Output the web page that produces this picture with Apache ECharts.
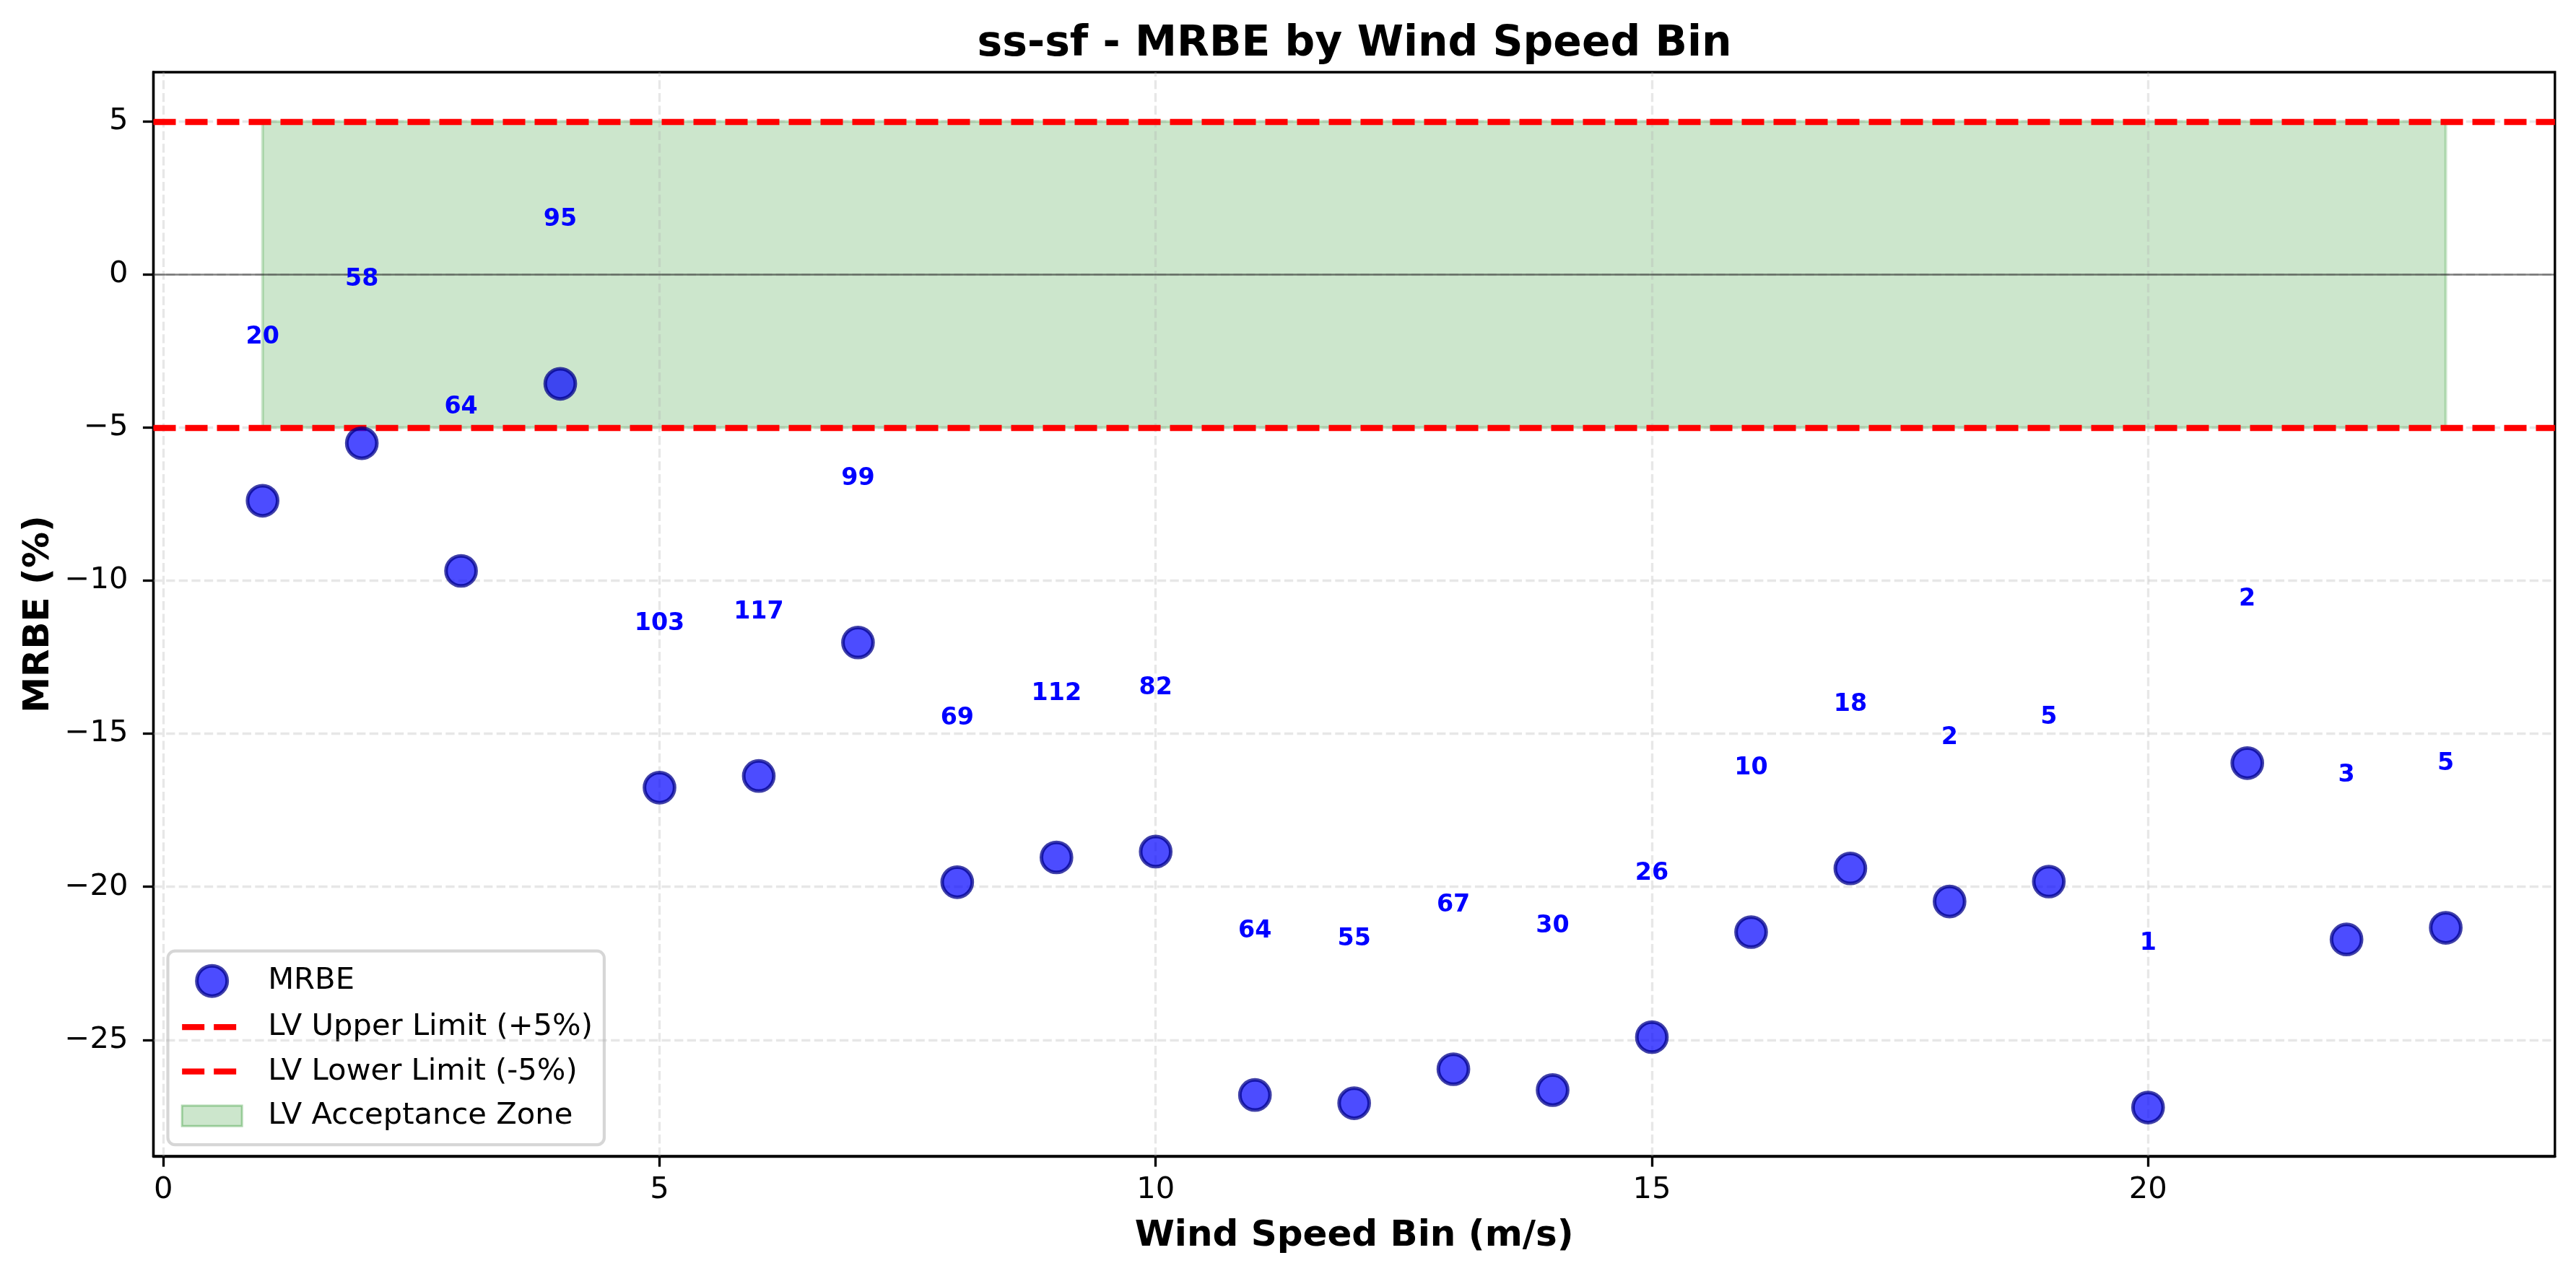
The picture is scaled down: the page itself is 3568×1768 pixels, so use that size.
<!DOCTYPE html>
<html>
<head>
<meta charset="utf-8">
<script src="https://cdn.jsdelivr.net/npm/echarts@6.0.0/dist/echarts.min.js"></script>
<style>
html, body { margin: 0; padding: 0; background: #fff; }
#chart { width: 3568px; height: 1768px; }
</style>
</head>
<body>
<div id="chart"></div>
<script>
// wind speed bins (m/s)
var BINS = [1, 2, 3, 4, 5, 6, 7, 8, 9, 10, 11, 12, 13, 14, 15, 16, 17, 18, 19, 20, 21, 22, 23];
// MRBE per bin (%)
var MRBE = [-7.39, -5.51, -9.68, -3.57, -16.76, -16.38, -12.02, -19.85, -19.04, -18.85, -26.80, -27.07,
            -25.96, -26.64, -24.91, -21.48, -19.40, -20.48, -19.83, -27.21, -15.96, -21.72, -21.34];
// sample count per bin
var COUNTS = [20, 58, 64, 95, 103, 117, 99, 69, 112, 82, 64, 55, 67, 30, 26, 10, 18, 2, 5, 1, 2, 3, 5];

var X_TICKS = [0, 5, 10, 15, 20];
var Y_TICKS = [-25, -20, -15, -10, -5, 0, 5];
var UPPER = 5, LOWER = -5;

var FONT = 'DejaVu Sans';
var PT = 300 / 72; // points -> px

function minus(v) { return String(v).replace('-', '\u2212'); }

var chart = echarts.init(document.getElementById('chart'));

var redLine = { color: '#ff0000', width: 2 * PT, type: [31, 13] };
var gridLine = { color: 'rgba(176,176,176,0.3)', width: 0.8 * PT, type: [12.3, 5.3] };

chart.setOption({
	animation: false,
	backgroundColor: '#ffffff',
	graphic: [{
		type: 'text', x: 1876, y: 62,
		style: {
			text: 'ss-sf - MRBE by Wind Speed Bin',
			font: 'bold ' + (14 * PT) + 'px "' + FONT + '"',
			fill: '#000', align: 'center', verticalAlign: 'middle'
		}
	}],
	grid: {
		left: 212.5, right: 29.2, top: 100, bottom: 166,
		show: true, borderColor: '#000', borderWidth: 0.8 * PT, backgroundColor: 'transparent'
	},
	legend: {
		left: 232.5, top: 1317.7, orient: 'vertical',
		padding: [18, 16, 19, 15.5],
		itemWidth: 83, itemHeight: 42, itemGap: 19.5,
		backgroundColor: 'rgba(255,255,255,0.8)',
		borderColor: 'rgba(204,204,204,0.8)', borderWidth: 1 * PT, borderRadius: 10,
		lineStyle: { width: 2 * PT },
		textStyle: { fontFamily: FONT, fontSize: 10 * PT, color: '#000', lineHeight: 42, padding: [0, 0, 0, 31] },
		selectedMode: false,
		data: [
			{ name: 'MRBE', icon: 'circle',
			  itemStyle: { color: 'rgba(0,0,255,0.7)', borderColor: 'rgba(0,0,139,0.75)', borderWidth: 1.2 * PT, opacity: 1 } },
			{ name: 'LV Upper Limit (+5%)', itemStyle: { color: 'rgba(0,0,0,0)', borderWidth: 0 } },
			{ name: 'LV Lower Limit (-5%)', itemStyle: { color: 'rgba(0,0,0,0)', borderWidth: 0 } },
			{ name: 'LV Acceptance Zone', icon: 'path://M0,0H88V30H0Z',
			  itemStyle: { color: 'rgba(0,128,0,0.2)', borderColor: 'rgba(0,128,0,0.3)', borderWidth: 3 } }
		]
	},
	xAxis: {
		type: 'value', min: -0.1, max: 24.1,
		name: 'Wind Speed Bin (m/s)', nameLocation: 'middle', nameGap: 86,
		nameTextStyle: { fontFamily: FONT, fontSize: 12 * PT, fontWeight: 'bold', color: '#000' },
		axisLine: { onZero: false, lineStyle: { color: '#000', width: 0.8 * PT } },
		axisTick: { customValues: X_TICKS, length: 3.5 * PT, lineStyle: { color: '#000', width: 0.8 * PT } },
		axisLabel: { customValues: X_TICKS, margin: 26, fontFamily: FONT, fontSize: 10 * PT, color: '#000', formatter: minus },
		splitLine: { show: false }
	},
	yAxis: {
		type: 'value', min: -28.8, max: 6.61,
		name: 'MRBE (%)', nameLocation: 'middle', nameGap: 130,
		nameTextStyle: { fontFamily: FONT, fontSize: 12 * PT, fontWeight: 'bold', color: '#000' },
		axisLine: { show: true, onZero: false, lineStyle: { color: '#000', width: 0.8 * PT } },
		axisTick: { show: true, customValues: Y_TICKS, length: 3.5 * PT, lineStyle: { color: '#000', width: 0.8 * PT } },
		axisLabel: { customValues: Y_TICKS, margin: 35, fontFamily: FONT, fontSize: 10 * PT, color: '#000', formatter: minus },
		splitLine: { show: false }
	},
	series: [
		{ // acceptance zone
			name: 'LV Acceptance Zone', type: 'line', data: [], z: 1, symbol: 'none',
			markArea: {
				silent: true,
				itemStyle: { color: 'rgba(0,128,0,0.2)', borderColor: 'rgba(0,128,0,0.2)', borderWidth: 4 },
				data: [[{ xAxis: BINS[0], yAxis: LOWER }, { xAxis: BINS[BINS.length - 1], yAxis: UPPER }]]
			}
		},
		{ // grid + zero line
			name: 'grid', type: 'line', data: [], z: 2, symbol: 'none',
			markLine: {
				silent: true, symbol: ['none', 'none'], label: { show: false },
				lineStyle: gridLine,
				data: X_TICKS.map(function (v) { return { xAxis: v }; })
					.concat(Y_TICKS.map(function (v) { return { yAxis: v }; }))
					.concat([{ yAxis: 0, lineStyle: { color: 'rgba(0,0,0,0.5)', width: 2.5, type: 'solid' } }])
			}
		},
		{
			name: 'LV Upper Limit (+5%)', type: 'line', data: [], z: 3, symbol: 'none',
			color: '#ff0000', lineStyle: redLine,
			markLine: { silent: true, symbol: ['none', 'none'], label: { show: false }, lineStyle: redLine, data: [{ yAxis: UPPER }] }
		},
		{
			name: 'LV Lower Limit (-5%)', type: 'line', data: [], z: 3, symbol: 'none',
			color: '#ff0000', lineStyle: redLine,
			markLine: { silent: true, symbol: ['none', 'none'], label: { show: false }, lineStyle: redLine, data: [{ yAxis: LOWER }] }
		},
		{
			name: 'MRBE', type: 'scatter', z: 5, silent: true,
			symbol: 'circle', symbolSize: 10 * PT,
			itemStyle: { color: 'rgba(0,0,255,0.7)', borderColor: 'rgba(0,0,139,0.75)', borderWidth: 1.2 * PT, opacity: 1 },
			label: {
				show: true, position: 'inside', offset: [0, -227], opacity: 1,
				fontFamily: FONT, fontSize: 8 * PT, fontWeight: 'bold', color: '#0000ff',
				formatter: function (p) { return COUNTS[p.dataIndex]; }
			},
			data: BINS.map(function (b, i) { return [b, MRBE[i]]; })
		}
	]
});
</script>
</body>
</html>
